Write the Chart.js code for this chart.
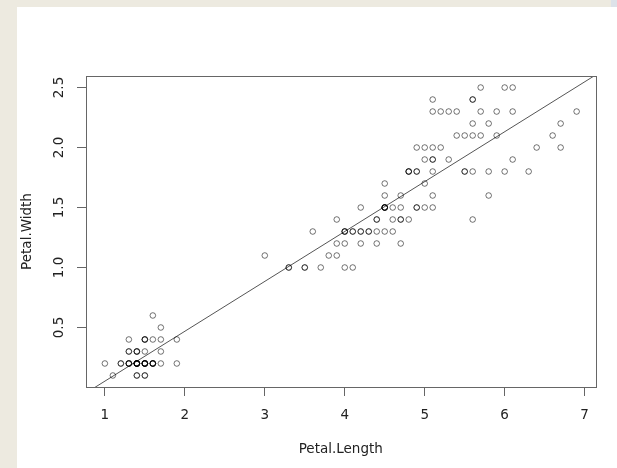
<!DOCTYPE html>
<html>
<head>
<meta charset="utf-8">
<script src="https://cdn.jsdelivr.net/npm/chart.js@4"></script>
<style>
  html, body { margin: 0; padding: 0; }
  body { width: 617px; height: 468px; background: #edeae0; position: relative; overflow: hidden; }
  #panel { position: absolute; left: 17px; top: 7px; width: 600px; height: 461px; background: #ffffff; }
  #edge { position: absolute; left: 611px; top: 0; width: 6px; height: 7px; background: #dde2e9; }
  canvas { display: block; }
</style>
</head>
<body>
<div id="edge"></div>
<div id="panel"><canvas id="grafico" width="600" height="461"></canvas></div>
<script>
// iris: Petal.Length x Petal.Width (150 flores)
const petalLength = [
  1.4, 1.4, 1.3, 1.5, 1.4, 1.7, 1.4, 1.5, 1.4, 1.5, 1.5, 1.6, 1.4, 1.1, 1.2, 1.5, 1.3, 1.4, 1.7, 1.5,
  1.7, 1.5, 1.0, 1.7, 1.9, 1.6, 1.6, 1.5, 1.4, 1.6, 1.6, 1.5, 1.5, 1.4, 1.5, 1.2, 1.3, 1.4, 1.3, 1.5,
  1.3, 1.3, 1.3, 1.6, 1.9, 1.4, 1.6, 1.4, 1.5, 1.4,
  4.7, 4.5, 4.9, 4.0, 4.6, 4.5, 4.7, 3.3, 4.6, 3.9, 3.5, 4.2, 4.0, 4.7, 3.6, 4.4, 4.5, 4.1, 4.5, 3.9,
  4.8, 4.0, 4.9, 4.7, 4.3, 4.4, 4.8, 5.0, 4.5, 3.5, 3.8, 3.7, 3.9, 5.1, 4.5, 4.5, 4.7, 4.4, 4.1, 4.0,
  4.4, 4.6, 4.0, 3.3, 4.2, 4.2, 4.2, 4.3, 3.0, 4.1,
  6.0, 5.1, 5.9, 5.6, 5.8, 6.6, 4.5, 6.3, 5.8, 6.1, 5.1, 5.3, 5.5, 5.0, 5.1, 5.3, 5.5, 6.7, 6.9, 5.0,
  5.7, 4.9, 6.7, 4.9, 5.7, 6.0, 4.8, 4.9, 5.6, 5.8, 6.1, 6.4, 5.6, 5.1, 5.6, 6.1, 5.6, 5.5, 4.8, 5.4,
  5.6, 5.1, 5.1, 5.9, 5.7, 5.2, 5.0, 5.2, 5.4, 5.1
];
const petalWidth = [
  0.2, 0.2, 0.2, 0.2, 0.2, 0.4, 0.3, 0.2, 0.2, 0.1, 0.2, 0.2, 0.1, 0.1, 0.2, 0.4, 0.4, 0.3, 0.3, 0.3,
  0.2, 0.4, 0.2, 0.5, 0.2, 0.2, 0.4, 0.2, 0.2, 0.2, 0.2, 0.4, 0.1, 0.2, 0.2, 0.2, 0.2, 0.1, 0.2, 0.2,
  0.3, 0.3, 0.2, 0.6, 0.4, 0.3, 0.2, 0.2, 0.2, 0.2,
  1.4, 1.5, 1.5, 1.3, 1.5, 1.3, 1.6, 1.0, 1.3, 1.4, 1.0, 1.5, 1.0, 1.4, 1.3, 1.4, 1.5, 1.0, 1.5, 1.1,
  1.8, 1.3, 1.5, 1.2, 1.3, 1.4, 1.4, 1.7, 1.5, 1.0, 1.1, 1.0, 1.2, 1.6, 1.5, 1.6, 1.5, 1.3, 1.3, 1.3,
  1.2, 1.4, 1.2, 1.0, 1.3, 1.2, 1.3, 1.3, 1.1, 1.3,
  2.5, 1.9, 2.1, 1.8, 2.2, 2.1, 1.7, 1.8, 1.8, 2.5, 2.0, 1.9, 2.1, 2.0, 2.4, 2.3, 1.8, 2.2, 2.3, 1.5,
  2.3, 2.0, 2.0, 1.8, 2.1, 1.8, 1.8, 1.8, 2.1, 1.6, 1.9, 2.0, 2.2, 1.5, 1.4, 2.3, 2.4, 1.8, 1.8, 2.1,
  2.4, 2.3, 1.9, 2.3, 2.5, 2.3, 1.9, 2.0, 2.3, 1.8
];
const xTicks = [1, 2, 3, 4, 5, 6, 7];
const yTicks = [0.5, 1.0, 1.5, 2.0, 2.5];
const tituloX = 'Petal.Length';
const tituloY = 'Petal.Width';

// Limites como no R (faixa dos dados + 4%)
function limites(v) {
    const mn = Math.min(...v), mx = Math.max(...v);
    const d = (mx - mn) * 0.04;
    return [mn - d, mx + d];
}
const [xMin, xMax] = limites(petalLength);
const [yMin, yMax] = limites(petalWidth);

// Reta de regressão (mínimos quadrados), como abline(lm(...))
const n = petalLength.length;
const mediaX = petalLength.reduce((a, b) => a + b, 0) / n;
const mediaY = petalWidth.reduce((a, b) => a + b, 0) / n;
let sxy = 0, sxx = 0;
for (let i = 0; i < n; i++) {
    sxy += (petalLength[i] - mediaX) * (petalWidth[i] - mediaY);
    sxx += (petalLength[i] - mediaX) ** 2;
}
const inclinacao = sxy / sxx;
const intercepto = mediaY - inclinacao * mediaX;

const pontos = petalLength.map((x, i) => ({ x: x, y: petalWidth[i] }));
const reta = [xMin, xMax].map(x => ({ x: x, y: intercepto + inclinacao * x }));

const corEixo = '#666';
const fonte = { family: 'DejaVu Sans', size: 13.5 };

// Caixa em volta da área do gráfico (box() do R)
const caixa = {
    id: 'caixa',
    afterDraw(chart) {
        const { ctx, chartArea: a } = chart;
        ctx.save();
        ctx.strokeStyle = corEixo;
        ctx.lineWidth = 1;
        ctx.strokeRect(Math.round(a.left) + 0.5, Math.round(a.top) + 0.5,
                       Math.round(a.right - a.left), Math.round(a.bottom - a.top));
        ctx.restore();
    }
};

new Chart(document.getElementById('grafico'), {
    type: 'scatter',
    data: {
        datasets: [{
            data: pontos,
            pointStyle: 'circle',
            pointRadius: 2.8,
            pointBorderWidth: 1,
            pointBorderColor: 'rgba(0,0,0,0.55)',
            pointBackgroundColor: 'rgba(0,0,0,0)',
            clip: false
        }, {
            type: 'line',
            data: reta,
            borderColor: '#555',
            borderWidth: 1,
            pointRadius: 0,
            fill: false
        }]
    },
    options: {
        responsive: false,
        animation: false,
        events: [],
        layout: { padding: { top: 69, right: 21.5, left: 0, bottom: 0 } },
        plugins: { legend: { display: false }, tooltip: { enabled: false } },
        scales: {
            x: {
                type: 'linear',
                min: xMin,
                max: xMax,
                afterBuildTicks: s => { s.ticks = xTicks.map(v => ({ value: v })); },
                afterFit: s => { s.height = 81; },
                grid: { display: true, drawOnChartArea: false, drawTicks: true, tickLength: 9, color: corEixo },
                border: { display: false },
                ticks: { color: '#222', font: fonte, padding: 11, maxRotation: 0, autoSkip: false,
                         callback: v => String(v) },
                title: { display: true, text: tituloX, color: '#222', font: fonte, padding: { top: 0, bottom: 10.5 } }
            },
            y: {
                type: 'linear',
                min: yMin,
                max: yMax,
                afterBuildTicks: s => { s.ticks = yTicks.map(v => ({ value: v })); },
                afterFit: s => { s.width = 69; },
                grid: { display: true, drawOnChartArea: false, drawTicks: true, tickLength: 9, color: corEixo },
                border: { display: false },
                ticks: { color: '#222', font: fonte, padding: 6.3, minRotation: 90, maxRotation: 90,
                         crossAlign: 'center', autoSkip: false, callback: v => v.toFixed(1) },
                title: { display: true, text: tituloY, color: '#222', font: fonte, padding: { top: 2.4, bottom: 0 } }
            }
        }
    },
    plugins: [caixa]
});
</script>
</body>
</html>
